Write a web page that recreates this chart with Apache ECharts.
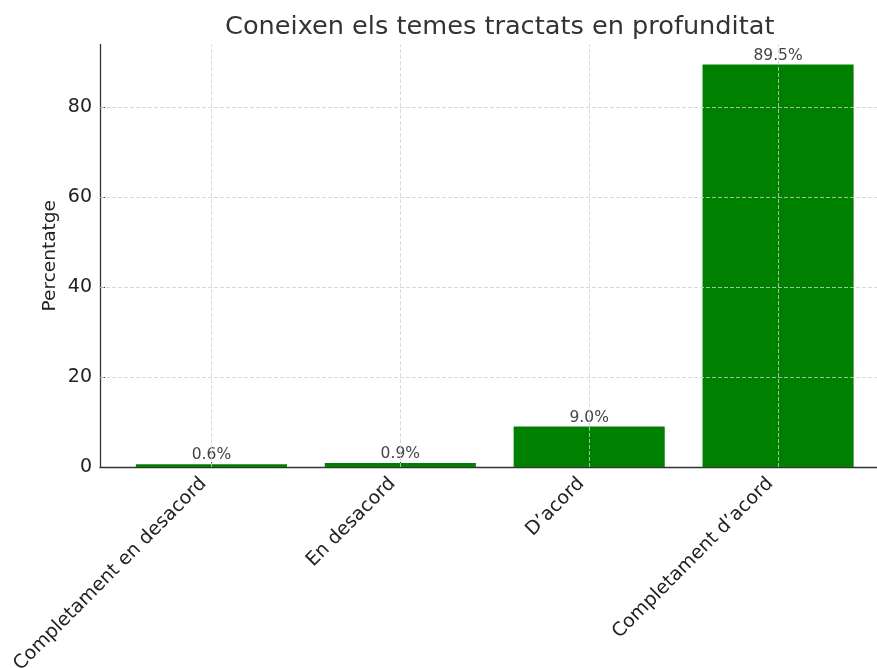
<!DOCTYPE html>
<html>
<head>
<meta charset="utf-8">
<script src="https://cdn.jsdelivr.net/npm/echarts@6/dist/echarts.min.js"></script>
<style>html,body{margin:0;padding:0;background:#fff}#c{width:877px;height:668px}</style>
</head>
<body>
<div id="c"></div>
<script>
const titleText = 'Coneixen els temes tractats en profunditat';
const yAxisName = 'Percentatge';
const categories = ['Completament en desacord', 'En desacord', 'D\u2019acord', 'Completament d\u2019acord'];
const values = [0.6, 0.9, 9.0, 89.5];
const yTicks = [0, 20, 40, 60, 80];
const xPositions = [0, 1, 2, 3];

const FONT = 'DejaVu Sans';
const xMin = -0.59, xMax = 3.59;
const yMax = 93.975;
const gridLeft = 100, gridWidth = 789.5, gridTop = 44.5, gridHeight = 422.5;
const barWidthPx = gridWidth / (xMax - xMin) * 0.8;

const chart = echarts.init(document.getElementById('c'), null, {renderer: 'canvas'});
const gridStyle = {color: '#cfcfcf', type: [4, 2], width: 0.8};
chart.setOption({
  animation: false,
  backgroundColor: '#ffffff',
  title: {
    text: titleText,
    left: gridLeft + gridWidth / 2,
    textAlign: 'center',
    top: 9,
    textStyle: {fontFamily: FONT, fontSize: 25.6, fontWeight: 'normal', color: '#333333'}
  },
  grid: {left: gridLeft, top: gridTop, width: gridWidth, height: gridHeight, containLabel: false, outerBoundsMode: 'none'},
  xAxis: {
    type: 'value', min: xMin, max: xMax,
    axisLine: {show: true, onZero: false, lineStyle: {color: '#333333', width: 1.3}},
    axisTick: {show: true, inside: true, length: 5, customValues: xPositions, lineStyle: {color: '#333333', width: 1}},
    axisLabel: {
      show: true, customValues: xPositions, rotate: 45, margin: 6,
      padding: [0, 11, 0, 0],
      fontFamily: FONT, fontSize: 19, color: '#222222',
      formatter: v => categories[Math.round(v)]
    },
    splitLine: {show: false}
  },
  yAxis: {
    type: 'value', min: 0, max: yMax,
    name: yAxisName, nameLocation: 'middle', nameGap: 40, nameRotate: 90,
    nameMoveOverlap: false,
    nameTextStyle: {fontFamily: FONT, fontSize: 18.5, color: '#222222'},
    axisLine: {show: true, onZero: false, lineStyle: {color: '#333333', width: 1.3}},
    axisTick: {show: true, inside: true, length: 5, customValues: yTicks, lineStyle: {color: '#333333', width: 1}},
    axisLabel: {show: true, customValues: yTicks, margin: 8, fontFamily: FONT, fontSize: 19, color: '#222222'},
    splitLine: {show: false}
  },
  series: [{
    type: 'bar',
    data: values.map((v, i) => [xPositions[i], v]),
    barWidth: barWidthPx,
    itemStyle: {color: '#008000'},
    label: {
      show: true, position: 'top', distance: 1,
      fontFamily: FONT, fontSize: 15.5, color: '#444444',
      formatter: p => p.value[1].toFixed(1) + '%'
    },
    markLine: {
      silent: true, symbol: 'none', label: {show: false},
      lineStyle: gridStyle,
      data: xPositions.map(x => ({xAxis: x})).concat(yTicks.filter(t => t > 0).map(t => ({yAxis: t})))
    }
  }]
});
</script>
</body>
</html>
